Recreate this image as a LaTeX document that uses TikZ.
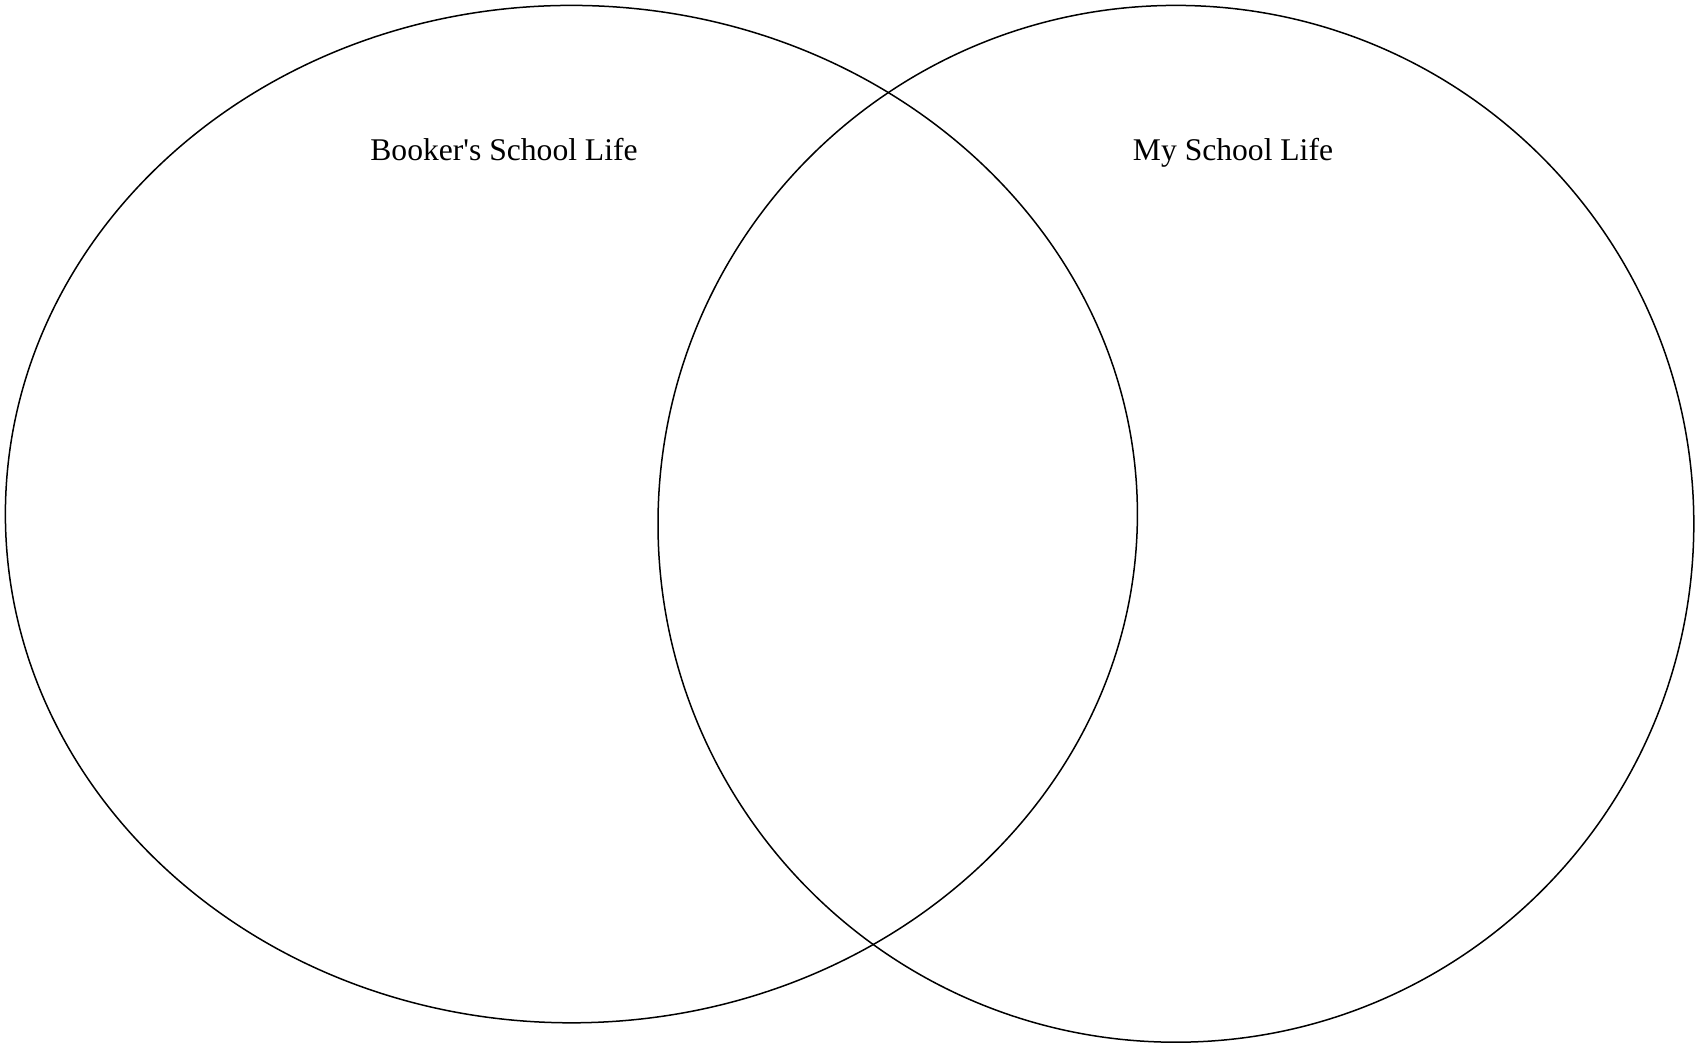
\documentclass[tikz,border=0pt]{standalone}
\usepackage{fontspec}
\setmainfont{Liberation Serif}[Ligatures=TeXOff]
\begin{document}
\begin{tikzpicture}[x=1pt,y=-1pt,
  setbox/.style={draw=black,line width=1.5pt},
  lbl/.style={anchor=base,inner sep=0pt,font=\fontsize{31.6}{38}\selectfont}]
\useasboundingbox (0,0) rectangle (1697,1045);
\draw[setbox] (571.4,514.1) ellipse [x radius=566,y radius=508.7];
\draw[setbox] (1175.9,523.8) ellipse [x radius=517.9,y radius=518.4];
\node[lbl] (booker) at (504,160) {Booker's School Life};
\node[lbl] (mine) at (1233,160) {My School Life};
\end{tikzpicture}
\end{document}
